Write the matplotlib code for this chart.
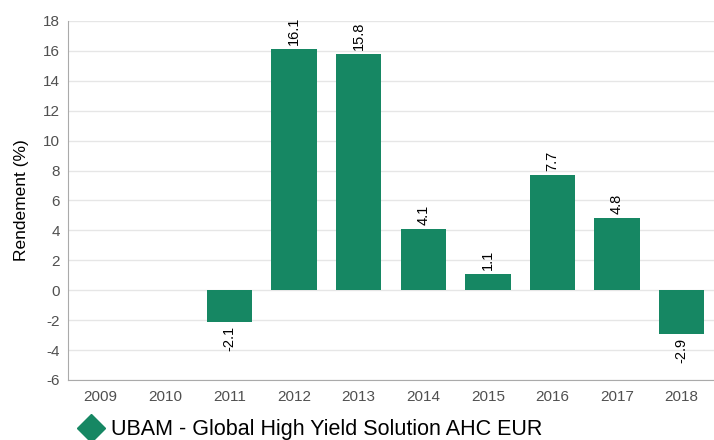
import matplotlib
matplotlib.use("Agg")
import matplotlib.pyplot as plt
from matplotlib.lines import Line2D

years = ['2009', '2010', '2011', '2012', '2013', '2014', '2015', '2016', '2017', '2018']
returns = [None, None, -2.1, 16.1, 15.8, 4.1, 1.1, 7.7, 4.8, -2.9]
series_name = 'UBAM - Global High Yield Solution AHC EUR'
GREEN = '#168763'

plt.rcParams['font.family'] = ['Liberation Sans', 'DejaVu Sans']
plt.rcParams['axes.unicode_minus'] = False

fig = plt.figure(figsize=(7.14, 4.40), dpi=100)
ax = fig.add_axes([0.0952, 0.1364, 0.9048, 0.8159])

xs = list(range(len(years)))
for x, v in zip(xs, returns):
    if v is None:
        continue
    ax.bar(x, v, width=0.7, color=GREEN, zorder=3)
    if v >= 0:
        ax.annotate(f'{v:.1f}', (x, v), xytext=(0, 3), textcoords='offset points',
                    rotation=90, ha='center', va='bottom', fontsize=10.5, color='black')
    else:
        ax.annotate(f'{v:.1f}', (x, v), xytext=(0, -3), textcoords='offset points',
                    rotation=90, ha='center', va='top', fontsize=10.5, color='black')

ax.set_xlim(-0.5, len(years) - 0.5)
ax.set_ylim(-6, 18)
ax.set_yticks(range(-6, 19, 2))
ax.set_xticks(xs)
ax.set_xticklabels(years)
ax.tick_params(axis='both', length=0, labelsize=11, colors='#505050', pad=6)
ax.tick_params(axis='x', pad=7)
ax.grid(axis='y', color='#e6e6e6', linewidth=1, zorder=0)
ax.set_axisbelow(True)
for s in ['top', 'right']:
    ax.spines[s].set_visible(False)
for s in ['left', 'bottom']:
    ax.spines[s].set_color('#aaaaaa')
ax.set_ylabel('Rendement (%)', fontsize=12.5, color='black', labelpad=10)

handle = Line2D([], [], marker='D', color=GREEN, linestyle='none', markersize=14)
fig.legend([handle], [series_name], loc='lower left', bbox_to_anchor=(0.085, -0.045),
           frameon=False, fontsize=15.5, handletextpad=0.45, handlelength=1.0)

fig.savefig('out.png', dpi=100)
